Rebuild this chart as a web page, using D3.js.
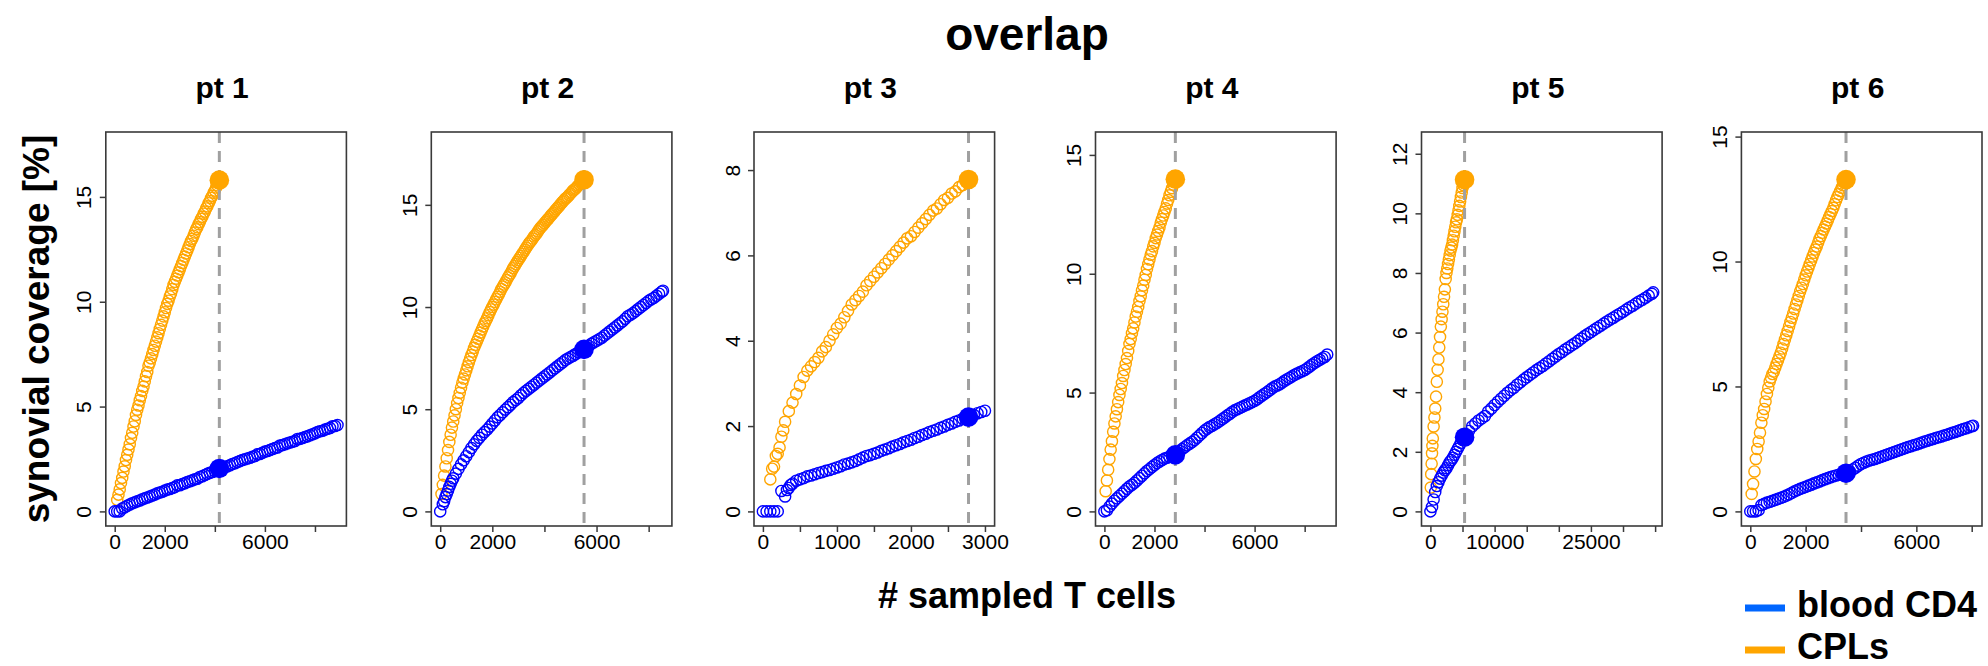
<!DOCTYPE html>
<html><head><meta charset="utf-8">
<script src="https://cdn.jsdelivr.net/npm/d3@7"></script>
<style>
body{margin:0;background:#fff}
svg{display:block}
text{font-family:"Liberation Sans",Arial,Helvetica,sans-serif;fill:#000}
</style>
</head><body>
<svg id="chart" width="1988" height="666"></svg>
<script>
// ---------------- data ----------------
const panels = ["pt 1", "pt 2", "pt 3", "pt 4", "pt 5", "pt 6"];
const seriesNames = ["blood CD4", "CPLs"];

// axis limits (data range, R-style 4% padding added in code)
const xLims = [[0, 8900], [0, 8550], [0, 3010], [0, 8900], [0, 34700], [0, 8050]];
const yLims = [[0, 17.4], [0, 17.85], [0, 8.55], [0, 15.35], [0, 12.24], [0, 14.6]];

const xTicks = [
  [0, 2000, 4000, 6000, 8000],
  [0, 2000, 4000, 6000, 8000],
  [0, 500, 1000, 1500, 2000, 2500, 3000],
  [0, 2000, 4000, 6000, 8000],
  [0, 5000, 10000, 15000, 20000, 25000, 30000, 35000],
  [0, 2000, 4000, 6000, 8000]
];
const xTickLabels = [
  ["0", "2000", "", "6000", ""],
  ["0", "2000", "", "6000", ""],
  ["0", "", "1000", "", "2000", "", "3000"],
  ["0", "2000", "", "6000", ""],
  ["0", "", "10000", "", "", "25000", "", ""],
  ["0", "2000", "", "6000", ""]
];
const yTicks = [
  [0, 5, 10, 15], [0, 5, 10, 15], [0, 2, 4, 6, 8],
  [0, 5, 10, 15], [0, 2, 4, 6, 8, 10, 12], [0, 5, 10, 15]
];

// size of the CPL repertoire (dashed line) and coverage at that size
const cplSize  = [4180, 5520, 2778, 2834, 5321, 3458];
const cplAtN   = [15.8, 16.23, 7.78, 13.98, 11.13, 13.28];
const bloodAtN = [2.05, 7.93, 2.21, 2.38, 2.49, 1.53];

// CPLs curves: [sampled cells, coverage %]
const cpl1 = [[100,0.55],[150,0.8],[200,1.05],[250,1.35],[300,1.6],[350,1.9],[400,2.15],[450,2.45],[500,2.7],[550,2.95],[600,3.2],[650,3.5],[700,3.75],[750,4.05],[800,4.3],[850,4.6],[900,4.85],[950,5.05],[1000,5.3],[1050,5.5],[1100,5.75],[1150,5.95],[1200,6.2],[1250,6.45],[1300,6.65],[1350,6.95],[1400,7.1],[1450,7.3],[1500,7.5],[1550,7.7],[1600,7.9],[1650,8.1],[1700,8.3],[1750,8.5],[1800,8.7],[1850,8.9],[1900,9.1],[1950,9.3],[2000,9.5],[2050,9.7],[2100,9.9],[2150,10.05],[2200,10.25],[2250,10.4],[2300,10.6],[2350,10.8],[2400,10.95],[2450,11.1],[2500,11.25],[2550,11.4],[2600,11.55],[2650,11.7],[2700,11.85],[2750,12.0],[2800,12.15],[2850,12.3],[2900,12.45],[2950,12.6],[3000,12.75],[3050,12.9],[3100,13.0],[3150,13.15],[3200,13.3],[3250,13.45],[3300,13.55],[3350,13.7],[3400,13.8],[3450,13.95],[3500,14.05],[3550,14.2],[3600,14.3],[3650,14.45],[3700,14.55],[3750,14.7],[3800,14.8],[3850,14.95],[3900,15.05],[3950,15.2],[4000,15.3],[4050,15.45],[4100,15.55],[4150,15.7],[4180,15.8]];
const cpl2 = [[50,0.85],[100,1.3],[150,1.75],[200,2.2],[250,2.6],[300,3.0],[350,3.4],[400,3.75],[450,4.1],[500,4.4],[550,4.7],[600,5.0],[650,5.3],[700,5.55],[750,5.8],[800,6.05],[850,6.3],[900,6.5],[950,6.7],[1000,6.9],[1050,7.1],[1100,7.3],[1150,7.48],[1200,7.65],[1250,7.82],[1300,8.0],[1350,8.15],[1400,8.3],[1450,8.45],[1500,8.6],[1550,8.75],[1600,8.9],[1650,9.05],[1700,9.2],[1750,9.32],[1800,9.45],[1850,9.6],[1900,9.75],[1950,9.88],[2000,10.0],[2050,10.12],[2100,10.25],[2150,10.38],[2200,10.5],[2250,10.62],[2300,10.75],[2350,10.88],[2400,11.0],[2450,11.1],[2500,11.2],[2550,11.32],[2600,11.45],[2650,11.55],[2700,11.65],[2750,11.78],[2800,11.9],[2850,12.0],[2900,12.1],[2950,12.2],[3000,12.3],[3050,12.4],[3100,12.5],[3150,12.6],[3200,12.7],[3250,12.8],[3300,12.9],[3350,13.0],[3400,13.1],[3450,13.18],[3500,13.25],[3550,13.35],[3600,13.45],[3650,13.52],[3700,13.6],[3750,13.7],[3800,13.8],[3850,13.88],[3900,13.95],[3950,14.02],[4000,14.1],[4050,14.18],[4100,14.25],[4150,14.32],[4200,14.4],[4250,14.48],[4300,14.55],[4350,14.62],[4400,14.7],[4450,14.78],[4500,14.85],[4550,14.92],[4600,15.0],[4650,15.08],[4700,15.15],[4750,15.22],[4800,15.3],[4850,15.35],[4900,15.4],[4950,15.48],[5000,15.55],[5050,15.62],[5100,15.7],[5150,15.75],[5200,15.8],[5250,15.88],[5300,15.95],[5350,16.0],[5400,16.05],[5450,16.12],[5520,16.23]];
const cpl3 = [[100,0.75],[125,1.0],[150,1.05],[175,1.3],[200,1.35],[225,1.5],[250,1.75],[275,1.9],[300,2.1],[350,2.35],[400,2.55],[450,2.75],[500,2.95],[550,3.15],[600,3.3],[650,3.4],[700,3.5],[750,3.6],[800,3.75],[850,3.85],[900,4.0],[950,4.15],[1000,4.3],[1050,4.4],[1100,4.55],[1150,4.7],[1200,4.85],[1250,4.95],[1300,5.05],[1350,5.15],[1400,5.3],[1450,5.4],[1500,5.5],[1550,5.6],[1600,5.7],[1650,5.8],[1700,5.9],[1750,6.0],[1800,6.1],[1850,6.2],[1900,6.3],[1950,6.4],[2000,6.45],[2050,6.55],[2100,6.65],[2150,6.75],[2200,6.85],[2250,6.95],[2300,7.05],[2350,7.1],[2400,7.2],[2450,7.3],[2500,7.35],[2550,7.45],[2600,7.5],[2650,7.6],[2700,7.65],[2750,7.72],[2778,7.78]];
const cpl4 = [[50,0.85],[100,1.3],[150,1.75],[200,2.2],[250,2.6],[300,2.95],[350,3.35],[400,3.7],[450,4.0],[500,4.3],[550,4.6],[600,4.9],[650,5.15],[700,5.4],[750,5.7],[800,5.95],[850,6.2],[900,6.45],[950,6.75],[1000,7.05],[1050,7.25],[1100,7.5],[1150,7.7],[1200,7.95],[1250,8.2],[1300,8.4],[1350,8.6],[1400,8.85],[1450,9.05],[1500,9.3],[1550,9.5],[1600,9.75],[1650,9.95],[1700,10.2],[1750,10.4],[1800,10.6],[1850,10.8],[1900,10.95],[1950,11.15],[2000,11.3],[2050,11.5],[2100,11.65],[2150,11.8],[2200,11.95],[2250,12.15],[2300,12.3],[2350,12.45],[2400,12.6],[2450,12.75],[2500,12.95],[2550,13.1],[2600,13.3],[2650,13.45],[2700,13.6],[2750,13.75],[2834,13.98]];
const cpl5 = [[60,0.8],[125,1.25],[190,1.6],[250,1.95],[310,2.2],[375,2.45],[500,2.85],[625,3.15],[750,3.45],[875,3.85],[1000,4.35],[1125,4.75],[1250,5.1],[1375,5.5],[1500,5.85],[1625,6.2],[1750,6.45],[1875,6.7],[2000,6.95],[2125,7.2],[2250,7.45],[2375,7.8],[2500,8.0],[2625,8.15],[2750,8.3],[2875,8.45],[3000,8.6],[3125,8.75],[3250,8.85],[3375,8.95],[3500,9.1],[3625,9.25],[3750,9.4],[3875,9.55],[4000,9.7],[4125,9.8],[4250,9.95],[4375,10.1],[4500,10.25],[4625,10.4],[4750,10.55],[4875,10.7],[5000,10.85],[5125,10.95],[5250,11.05],[5321,11.13]];
const cpl6 = [[50,0.7],[100,1.1],[150,1.6],[200,2.1],[250,2.5],[300,2.8],[350,3.15],[400,3.55],[450,3.85],[500,4.1],[550,4.4],[600,4.7],[650,4.95],[700,5.2],[750,5.35],[800,5.5],[850,5.6],[900,5.75],[950,5.9],[1000,6.05],[1050,6.2],[1100,6.35],[1150,6.52],[1200,6.7],[1250,6.88],[1300,7.05],[1350,7.22],[1400,7.4],[1450,7.58],[1500,7.75],[1550,7.92],[1600,8.1],[1650,8.28],[1700,8.45],[1750,8.62],[1800,8.8],[1850,8.95],[1900,9.1],[1950,9.28],[2000,9.45],[2050,9.6],[2100,9.75],[2150,9.9],[2200,10.05],[2250,10.2],[2300,10.35],[2350,10.48],[2400,10.6],[2450,10.75],[2500,10.9],[2550,11.02],[2600,11.15],[2650,11.28],[2700,11.4],[2750,11.52],[2800,11.65],[2850,11.78],[2900,11.9],[2950,12.02],[3000,12.15],[3050,12.3],[3100,12.45],[3150,12.58],[3200,12.7],[3250,12.82],[3300,12.95],[3350,13.05],[3400,13.15],[3458,13.28]];

// blood CD4 curves: [sampled cells, coverage %]
const blood1 = [[0,0],[100,0],[200,0],[300,0.14],[400,0.2],[500,0.27],[600,0.33],[700,0.39],[800,0.43],[900,0.48],[1000,0.52],[1100,0.58],[1200,0.62],[1300,0.66],[1400,0.71],[1500,0.76],[1600,0.8],[1700,0.86],[1800,0.9],[1900,0.94],[2000,0.99],[2100,1.04],[2200,1.07],[2300,1.12],[2400,1.16],[2500,1.24],[2600,1.25],[2700,1.3],[2800,1.34],[2900,1.4],[3000,1.44],[3100,1.48],[3200,1.53],[3300,1.56],[3400,1.64],[3500,1.68],[3600,1.74],[3700,1.79],[3800,1.84],[3900,1.88],[4000,1.93],[4100,1.98],[4200,2.02],[4300,2.08],[4400,2.12],[4500,2.15],[4600,2.2],[4700,2.26],[4800,2.3],[4900,2.35],[5000,2.4],[5100,2.45],[5200,2.49],[5300,2.52],[5400,2.56],[5500,2.6],[5600,2.64],[5700,2.72],[5800,2.74],[5900,2.8],[6000,2.85],[6100,2.88],[6200,2.93],[6300,2.98],[6400,3.02],[6500,3.05],[6600,3.14],[6700,3.16],[6800,3.2],[6900,3.25],[7000,3.29],[7100,3.32],[7200,3.36],[7300,3.45],[7400,3.46],[7500,3.5],[7600,3.55],[7700,3.58],[7800,3.63],[7900,3.68],[8000,3.72],[8100,3.78],[8200,3.82],[8300,3.85],[8400,3.9],[8500,3.94],[8600,3.98],[8700,4.06],[8800,4.07],[8900,4.12]];
const blood2 = [[0,0],[100,0.35],[150,0.5],[200,0.7],[250,0.85],[300,1.02],[350,1.2],[400,1.35],[450,1.5],[500,1.62],[600,1.85],[700,2.08],[800,2.3],[900,2.5],[1000,2.7],[1100,2.9],[1200,3.1],[1300,3.28],[1400,3.45],[1500,3.6],[1600,3.75],[1700,3.88],[1800,4.0],[1900,4.15],[2000,4.3],[2100,4.45],[2200,4.6],[2300,4.72],[2400,4.85],[2500,4.98],[2600,5.1],[2700,5.22],[2800,5.35],[2900,5.45],[3000,5.55],[3100,5.68],[3200,5.8],[3300,5.9],[3400,6.0],[3500,6.1],[3600,6.2],[3700,6.3],[3800,6.4],[3900,6.5],[4000,6.6],[4100,6.7],[4200,6.8],[4300,6.9],[4400,7.0],[4500,7.1],[4600,7.2],[4700,7.3],[4800,7.4],[4900,7.48],[5000,7.55],[5100,7.62],[5200,7.7],[5300,7.78],[5400,7.85],[5500,7.92],[5600,8.0],[5700,8.1],[5800,8.2],[5900,8.28],[6000,8.35],[6100,8.42],[6200,8.5],[6300,8.6],[6400,8.7],[6500,8.8],[6600,8.9],[6700,9.0],[6800,9.1],[6900,9.2],[7000,9.3],[7100,9.42],[7200,9.55],[7300,9.62],[7400,9.7],[7500,9.8],[7600,9.9],[7700,10.0],[7800,10.1],[7900,10.2],[8000,10.3],[8100,10.38],[8200,10.45],[8300,10.55],[8400,10.65],[8500,10.75],[8550,10.8]];
const blood3 = [[0,0],[50,0],[100,0],[150,0],[200,0],[250,0.48],[300,0.35],[325,0.5],[350,0.55],[375,0.62],[400,0.65],[450,0.72],[500,0.75],[550,0.78],[600,0.82],[650,0.84],[700,0.87],[750,0.9],[800,0.92],[850,0.95],[900,0.97],[950,1.0],[1000,1.03],[1050,1.06],[1100,1.1],[1150,1.12],[1200,1.15],[1250,1.18],[1300,1.22],[1350,1.26],[1400,1.3],[1450,1.32],[1500,1.35],[1550,1.38],[1600,1.42],[1650,1.45],[1700,1.48],[1750,1.52],[1800,1.55],[1850,1.58],[1900,1.62],[1950,1.65],[2000,1.68],[2050,1.72],[2100,1.75],[2150,1.79],[2200,1.82],[2250,1.86],[2300,1.89],[2350,1.92],[2400,1.96],[2450,1.99],[2500,2.03],[2550,2.06],[2600,2.1],[2650,2.13],[2700,2.17],[2750,2.2],[2800,2.23],[2850,2.26],[2900,2.3],[2950,2.33],[3000,2.36]];
const blood4 = [[0,0],[100,0.05],[200,0.2],[300,0.33],[400,0.45],[500,0.55],[600,0.65],[700,0.75],[800,0.85],[900,0.95],[1000,1.05],[1100,1.12],[1200,1.2],[1300,1.3],[1400,1.4],[1500,1.5],[1600,1.6],[1700,1.7],[1800,1.78],[1900,1.87],[2000,1.95],[2100,2.03],[2200,2.1],[2300,2.16],[2400,2.22],[2500,2.26],[2600,2.3],[2700,2.34],[2800,2.38],[2900,2.47],[3000,2.55],[3100,2.62],[3200,2.7],[3300,2.78],[3400,2.85],[3500,2.92],[3600,3.0],[3700,3.1],[3800,3.2],[3900,3.3],[4000,3.4],[4100,3.48],[4200,3.55],[4300,3.6],[4400,3.67],[4500,3.73],[4600,3.8],[4700,3.88],[4800,3.95],[4900,4.03],[5000,4.1],[5100,4.18],[5200,4.25],[5300,4.3],[5400,4.35],[5500,4.4],[5600,4.45],[5700,4.5],[5800,4.55],[5900,4.6],[6000,4.65],[6100,4.72],[6200,4.8],[6300,4.88],[6400,4.95],[6500,5.02],[6600,5.1],[6700,5.18],[6800,5.25],[6900,5.3],[7000,5.35],[7100,5.42],[7200,5.5],[7300,5.56],[7400,5.62],[7500,5.68],[7600,5.75],[7700,5.8],[7800,5.85],[7900,5.9],[8000,5.95],[8100,6.02],[8200,6.1],[8300,6.18],[8400,6.25],[8500,6.32],[8600,6.38],[8700,6.44],[8800,6.5],[8900,6.6]];
const blood5 = [[0,0],[250,0.15],[500,0.4],[750,0.65],[1000,0.85],[1250,0.98],[1500,1.1],[1750,1.2],[2000,1.3],[2250,1.38],[2500,1.45],[2750,1.55],[3000,1.65],[3250,1.72],[3500,1.8],[3750,1.9],[4000,2.0],[4250,2.1],[4500,2.2],[4750,2.3],[5000,2.4],[5500,2.55],[6000,2.7],[6500,2.85],[7000,2.95],[7500,3.05],[8000,3.12],[8500,3.2],[9000,3.35],[9500,3.45],[10000,3.57],[10500,3.68],[11000,3.78],[11500,3.88],[12000,3.98],[12500,4.07],[13000,4.15],[13500,4.25],[14000,4.33],[14500,4.42],[15000,4.5],[15500,4.58],[16000,4.66],[16500,4.74],[17000,4.81],[17500,4.88],[18000,4.96],[18500,5.04],[19000,5.12],[19500,5.2],[20000,5.28],[20500,5.35],[21000,5.43],[21500,5.5],[22000,5.57],[22500,5.64],[23000,5.72],[23500,5.8],[24000,5.88],[24500,5.95],[25000,6.02],[25500,6.09],[26000,6.16],[26500,6.23],[27000,6.3],[27500,6.37],[28000,6.44],[28500,6.5],[29000,6.57],[29500,6.63],[30000,6.7],[30500,6.77],[31000,6.84],[31500,6.9],[32000,6.97],[32500,7.04],[33000,7.1],[33500,7.17],[34000,7.24],[34500,7.3],[34700,7.35]];
const blood6 = [[0,0],[100,0],[200,0],[300,0.05],[400,0.25],[500,0.3],[600,0.35],[700,0.38],[800,0.42],[900,0.46],[1000,0.5],[1100,0.54],[1200,0.58],[1300,0.63],[1400,0.68],[1500,0.74],[1600,0.8],[1700,0.85],[1800,0.9],[1900,0.94],[2000,0.98],[2100,1.03],[2200,1.07],[2300,1.12],[2400,1.16],[2500,1.2],[2600,1.25],[2700,1.29],[2800,1.33],[2900,1.37],[3000,1.41],[3100,1.44],[3200,1.47],[3300,1.5],[3400,1.52],[3500,1.56],[3600,1.6],[3700,1.68],[3800,1.75],[3900,1.83],[4000,1.9],[4100,1.95],[4200,2.0],[4300,2.04],[4400,2.07],[4500,2.1],[4600,2.14],[4700,2.18],[4800,2.22],[4900,2.26],[5000,2.3],[5100,2.34],[5200,2.38],[5300,2.42],[5400,2.46],[5500,2.5],[5600,2.54],[5700,2.58],[5800,2.61],[5900,2.65],[6000,2.68],[6100,2.72],[6200,2.76],[6300,2.8],[6400,2.83],[6500,2.87],[6600,2.9],[6700,2.94],[6800,2.97],[6900,3.0],[7000,3.04],[7100,3.07],[7200,3.11],[7300,3.15],[7400,3.18],[7500,3.22],[7600,3.26],[7700,3.3],[7800,3.33],[7900,3.37],[8000,3.41],[8050,3.43]];

const cplSeries = [cpl1, cpl2, cpl3, cpl4, cpl5, cpl6];
const bloodSeries = [blood1, blood2, blood3, blood4, blood5, blood6];

// ---------------- layout / style ----------------
const W = 1988, H = 666;
const colBlood = "#0000ff", colCpl = "#ffa500", colLegendBlood = "#0066ff";
const boxTop = 132, boxBottom = 526, boxW = 240.6;
const boxLeft = [105.8, 431.3, 754, 1095.5, 1421.5, 1741.4];
const boxH = boxBottom - boxTop;
const fontFam = '"Liberation Sans",Arial,Helvetica,sans-serif';
const ptR = 5.6, ptW = 1.4;

const svg = d3.select("#chart");
svg.append("rect").attr("width", W).attr("height", H).attr("fill", "#fff");

panels.forEach((name, i) => {
  const xl = xLims[i], yl = yLims[i];
  const xp = 0.04 * (xl[1] - xl[0]), yp = 0.04 * (yl[1] - yl[0]);
  const x = d3.scaleLinear().domain([xl[0] - xp, xl[1] + xp]).range([0, boxW]);
  const y = d3.scaleLinear().domain([yl[0] - yp, yl[1] + yp]).range([boxH, 0]);
  const g = svg.append("g").attr("transform", `translate(${boxLeft[i]},${boxTop})`);

  // points
  g.append("g").selectAll("circle").data(cplSeries[i]).join("circle")
    .attr("cx", d => x(d[0])).attr("cy", d => y(d[1])).attr("r", ptR)
    .attr("fill", "none").attr("stroke", colCpl).attr("stroke-width", ptW);
  g.append("g").selectAll("circle").data(bloodSeries[i]).join("circle")
    .attr("cx", d => x(d[0])).attr("cy", d => y(d[1])).attr("r", ptR)
    .attr("fill", "none").attr("stroke", colBlood).attr("stroke-width", ptW);

  // dashed line at CPL size
  g.append("line")
    .attr("x1", x(cplSize[i])).attr("x2", x(cplSize[i]))
    .attr("y1", 0).attr("y2", boxH)
    .attr("stroke", "#a0a0a0").attr("stroke-width", 3)
    .attr("stroke-dasharray", "11,8");

  // big dots
  g.append("circle").attr("cx", x(cplSize[i])).attr("cy", y(cplAtN[i])).attr("r", 9.8).attr("fill", colCpl);
  g.append("circle").attr("cx", x(cplSize[i])).attr("cy", y(bloodAtN[i])).attr("r", 9.8).attr("fill", colBlood);

  // box
  g.append("rect").attr("x", 0).attr("y", 0).attr("width", boxW).attr("height", boxH)
    .attr("fill", "none").attr("stroke", "#3a3a3a").attr("stroke-width", 1.6);

  // x axis
  const xa = g.append("g").attr("transform", `translate(0,${boxH})`)
    .call(d3.axisBottom(x).tickValues(xTicks[i]).tickSize(6)
      .tickFormat((d, k) => xTickLabels[i][k]));
  xa.select(".domain").remove();
  xa.selectAll("line").attr("stroke", "#3a3a3a").attr("stroke-width", 1.5);
  xa.selectAll("text").attr("y", 23).attr("dy", 0)
    .style("font-size", "21px").style("font-family", fontFam).attr("fill", "#000");

  // y axis
  const ya = g.append("g")
    .call(d3.axisLeft(y).tickValues(yTicks[i]).tickSize(6).tickFormat(d3.format("d")));
  ya.select(".domain").remove();
  ya.selectAll("line").attr("stroke", "#3a3a3a").attr("stroke-width", 1.5);
  ya.selectAll("text").attr("x", 0).attr("dy", 0)
    .attr("transform", "translate(-14.5,0) rotate(-90)")
    .attr("text-anchor", "middle")
    .style("font-size", "21px").style("font-family", fontFam).attr("fill", "#000");

  // panel title
  svg.append("text").attr("x", boxLeft[i] + boxW / 2 - 4).attr("y", 98)
    .attr("text-anchor", "middle").style("font-size", "30px").style("font-weight", "bold")
    .text(name);
});

// main title
svg.append("text").attr("x", 1027).attr("y", 50).attr("text-anchor", "middle")
  .style("font-size", "46px").style("font-weight", "bold").text("overlap");

// axis titles
svg.append("text").attr("x", 1027).attr("y", 608).attr("text-anchor", "middle")
  .style("font-size", "36px").style("font-weight", "bold").text("# sampled T cells");
svg.append("text").attr("transform", "translate(49,329) rotate(-90)").attr("text-anchor", "middle")
  .style("font-size", "37px").style("font-weight", "bold").text("synovial coverage [%]");

// legend
const legY = [608, 650];
const legCol = [colLegendBlood, colCpl];
seriesNames.forEach((s, k) => {
  svg.append("line").attr("x1", 1745).attr("x2", 1785).attr("y1", legY[k]).attr("y2", legY[k])
    .attr("stroke", legCol[k]).attr("stroke-width", 7);
  svg.append("text").attr("x", 1797).attr("y", legY[k] + 9)
    .style("font-size", "36px").style("font-weight", "bold").text(s);
});
</script>
</body></html>
